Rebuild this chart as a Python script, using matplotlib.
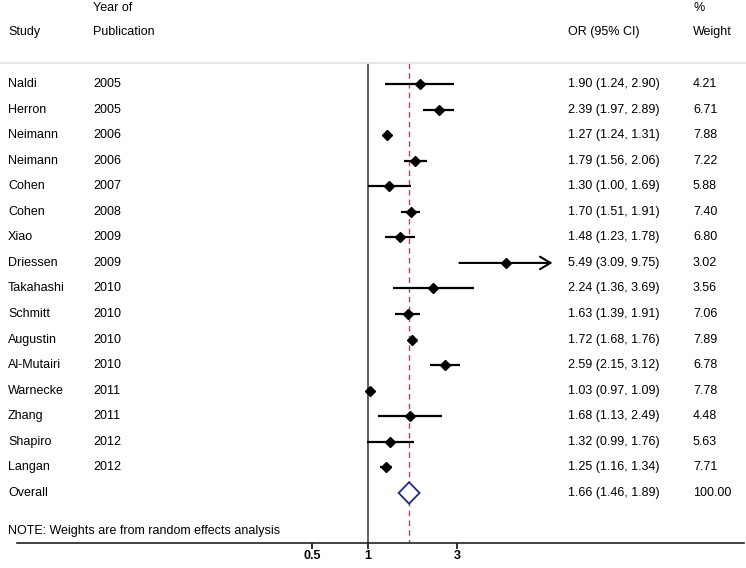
import numpy as np
import matplotlib
matplotlib.use("Agg")
import matplotlib.pyplot as plt
from matplotlib.transforms import blended_transform_factory
from matplotlib.ticker import FixedLocator, FixedFormatter, NullLocator

plt.rcParams['font.family'] = ['Liberation Sans', 'DejaVu Sans']

studies = ["Naldi", "Herron", "Neimann", "Neimann", "Cohen", "Cohen", "Xiao", "Driessen",
           "Takahashi", "Schmitt", "Augustin", "Al-Mutairi", "Warnecke", "Zhang", "Shapiro", "Langan"]
years = ["2005", "2005", "2006", "2006", "2007", "2008", "2009", "2009",
         "2010", "2010", "2010", "2010", "2011", "2011", "2012", "2012"]
odds = [1.90, 2.39, 1.27, 1.79, 1.30, 1.70, 1.48, 5.49, 2.24, 1.63, 1.72, 2.59, 1.03, 1.68, 1.32, 1.25]
lower = [1.24, 1.97, 1.24, 1.56, 1.00, 1.51, 1.23, 3.09, 1.36, 1.39, 1.68, 2.15, 0.97, 1.13, 0.99, 1.16]
upper = [2.90, 2.89, 1.31, 2.06, 1.69, 1.91, 1.78, 9.75, 3.69, 1.91, 1.76, 3.12, 1.09, 2.49, 1.76, 1.34]
weights = [4.21, 6.71, 7.88, 7.22, 5.88, 7.40, 6.80, 3.02, 3.56, 7.06, 7.89, 6.78, 7.78, 4.48, 5.63, 7.71]
overall = (1.66, 1.46, 1.89)
overall_weight = 100.00
xticks = [0.5, 1, 3]
xticklabels = ["0.5", "1", "3"]

W, H = 746, 568
fig = plt.figure(figsize=(W / 100, H / 100), dpi=100)
# axes spans from the axis line up to the top of the figure
ax = fig.add_axes([17 / W, (H - 543) / H, (744 - 17) / W, 543 / H])

# log scale: 81 px per unit of ln, x=1 at pixel 368
ppu = 81.0
ax.set_xscale('log')
ax.set_xlim(np.exp((17 - 368) / ppu), np.exp((744 - 368) / ppu))

row0, step = 84, 25.56
n = len(studies)
ax.set_ylim((543 - row0) / step, -row0 / step)

def py(p):
    return (p - row0) / step

rows = np.arange(n)
fs = 9
tr = blended_transform_factory(fig.transFigure, ax.transData)

# header
ax.text(93 / W, py(8), "Year of", transform=tr, fontsize=fs, va='center')
ax.text(693 / W, py(8), "%", transform=tr, fontsize=fs, va='center')
ax.text(8 / W, py(32), "Study", transform=tr, fontsize=fs, va='center')
ax.text(93 / W, py(32), "Publication", transform=tr, fontsize=fs, va='center')
ax.text(568 / W, py(32), "OR (95% CI)", transform=tr, fontsize=fs, va='center')
ax.text(693 / W, py(32), "Weight", transform=tr, fontsize=fs, va='center')
ax.plot([0, 1], [py(63), py(63)], transform=tr, color='#e6e6e6', lw=1.3, clip_on=False)

# reference lines
ax.plot([1, 1], [py(63), py(543)], color='#444444', lw=1.2, zorder=1)
ax.plot([overall[0], overall[0]], [py(63), py(543)], color='#b04a5a', lw=1.0,
        ls=(0, (4, 3)), zorder=1)

for i in rows:
    if upper[i] > 5:
        ax.annotate("", xy=(upper[i], i), xytext=(lower[i], i),
                    arrowprops=dict(arrowstyle='->,head_length=0.75,head_width=0.45',
                                    color='black', lw=1.5, shrinkA=0, shrinkB=0))
    else:
        ax.plot([lower[i], upper[i]], [i, i], color='black', lw=1.6, solid_capstyle='butt', zorder=2)
    ax.plot(odds[i], i, marker='D', color='black', markersize=5, zorder=3)
    ax.text(8 / W, i, studies[i], transform=tr, fontsize=fs, va='center')
    ax.text(93 / W, i, years[i], transform=tr, fontsize=fs, va='center')
    ax.text(568 / W, i, "%.2f (%.2f, %.2f)" % (odds[i], lower[i], upper[i]),
            transform=tr, fontsize=fs, va='center')
    ax.text(693 / W, i, "%.2f" % weights[i], transform=tr, fontsize=fs, va='center')

# overall diamond
yo = n
h = 0.42
ax.fill([overall[1], overall[0], overall[2], overall[0], overall[1]],
        [yo, yo - h, yo, yo + h, yo], facecolor='white', edgecolor='#1f2a8a', lw=1.3, zorder=4)
ax.text(8 / W, yo, "Overall", transform=tr, fontsize=fs, va='center')
ax.text(568 / W, yo, "%.2f (%.2f, %.2f)" % overall, transform=tr, fontsize=fs, va='center')
ax.text(693 / W, yo, "%.2f" % overall_weight, transform=tr, fontsize=fs, va='center')

ax.text(8 / W, py(531), "NOTE: Weights are from random effects analysis", transform=tr,
        fontsize=fs, va='center')

for s in ['top', 'left', 'right']:
    ax.spines[s].set_visible(False)
ax.spines['bottom'].set_color('#222222')
ax.spines['bottom'].set_linewidth(1.2)
ax.xaxis.set_major_locator(FixedLocator(xticks))
ax.xaxis.set_major_formatter(FixedFormatter(xticklabels))
ax.xaxis.set_minor_locator(NullLocator())
ax.tick_params(axis='x', length=4, width=1.3, color='#222222', labelsize=9, pad=1)
for lab in ax.get_xticklabels():
    lab.set_fontweight('bold')
ax.set_yticks([])
ax.patch.set_alpha(0)

fig.savefig("out.png", dpi=100)
